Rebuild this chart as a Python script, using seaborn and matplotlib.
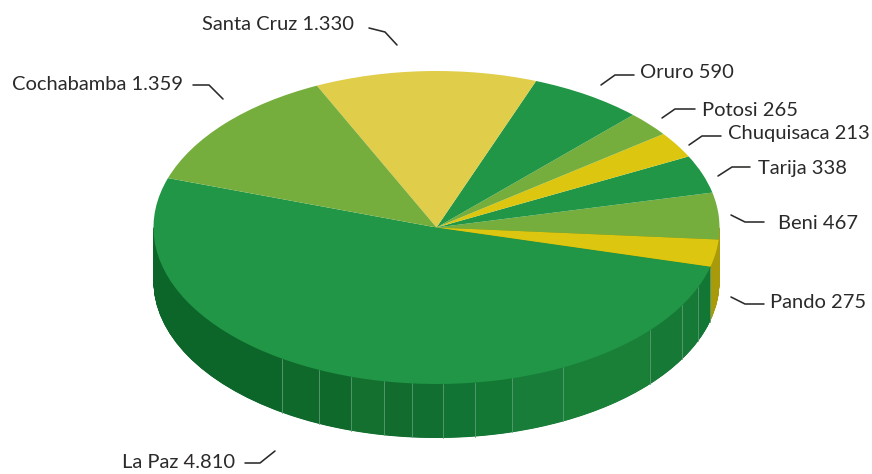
import numpy as np
import matplotlib
matplotlib.use("Agg")
import matplotlib.pyplot as plt
import seaborn as sns

# ---- data ----
regions = ["La Paz", "Pando", "Beni", "Tarija", "Chuquisaca", "Potosi", "Oruro", "Santa Cruz", "Cochabamba"]
# figures printed on the chart
value_labels = ["4.810", "275", "467", "338", "213", "265", "590", "1.330", "1.359"]
drawn_degrees = [183.9, 10.1, 17.3, 14.1, 9.7, 9.3, 23.4, 45.6, 46.6]
top_colors = ["#209646", "#dcc60f", "#75ae3c", "#209646", "#dcc60f", "#75ae3c", "#209646", "#e0cd4a", "#75ae3c"]

# rim facets of the extruded side: x pixel of each seam, left to right, and shade between seams
seam_px = [282, 319, 351, 384, 412, 443, 475, 512, 563, 650, 682, 698, 710]
facet_colors = ["#0d6629", "#0f692b", "#0f692b", "#14702f", "#116c2e", "#116f31", "#127434", "#147835",
                "#187d38", "#1a8038", "#167a36", "#167a36", "#127634", "#127634"]
pando_wall = "#a89a08"

# ---- layout (pixels) ----
W, H = 872, 474
CX, CY, RX, RY, DEPTH = 436.5, 227.5, 283.0, 156.5, 54.0
START = 161.6
label_pos = {"La Paz": (122, 462), "Pando": (770, 302), "Beni": (778, 224),
             "Tarija": (758, 169), "Chuquisaca": (728, 133), "Potosi": (702, 110),
             "Oruro": (640, 72), "Santa Cruz": (202, 25), "Cochabamba": (12, 84)}
leaders = {"La Paz": [(245, 463), (260, 463), (275, 451)], "Pando": [(731, 297), (745, 304), (764, 304)],
           "Beni": [(731, 215), (745, 222), (764, 222)], "Tarija": [(718, 176), (732, 167), (750, 167)],
           "Chuquisaca": [(689, 145), (702, 136), (721, 136)], "Potosi": [(662, 118), (675, 109), (695, 109)],
           "Oruro": [(601, 85), (615, 75), (634, 75)], "Santa Cruz": [(369, 28), (385, 32), (397, 45)],
           "Cochabamba": [(193, 85), (209, 85), (223, 99)]}

sns.set_theme(style="white")
plt.rcParams["font.family"] = ["Lato", "DejaVu Sans"]

fig = plt.figure(figsize=(W / 100, H / 100), dpi=100, facecolor="white")
ax = fig.add_axes([0, 0, 1, 1])


def px(x, y):
    return (x - CX) / RX, (CY - y) / RY


# side wall: stacked pies, bottom layer first
seam_deg = 360 - np.degrees(np.arccos((np.array(seam_px) - CX) / RX))
pando_deg = START + drawn_degrees[0]
keep = seam_deg < pando_deg
wall_edges = np.concatenate([[180], seam_deg[keep], [pando_deg, 360]])
wall_shares = list(np.diff(wall_edges)) + [180]
n_facets = len(wall_edges) - 2
wall_colors = facet_colors[:n_facets] + [pando_wall, "#ffffff"]
for d in np.linspace(DEPTH / RY, 0, 160):
    wedges, _ = ax.pie(wall_shares, colors=wall_colors, startangle=180, counterclock=True,
                       center=(0, -d), radius=1, wedgeprops={"linewidth": 0})
    wedges[-1].set_visible(False)

# seams on the wall
for a in seam_deg[keep]:
    x0, y0 = np.cos(np.radians(a)), np.sin(np.radians(a))
    ax.plot([x0, x0], [y0, y0 - DEPTH / RY], color="#5c9c72", lw=0.6, zorder=5)

# top face
ax.pie(drawn_degrees, colors=top_colors, startangle=START, counterclock=True, radius=1,
       wedgeprops={"linewidth": 0, "zorder": 6})

# labels and leaders
for name, lab in zip(regions, value_labels):
    x, y = label_pos[name]
    tx, ty = px(x, y)
    ax.text(tx, ty, f"{name} {lab}", ha="left", va="center", fontsize=14.5, color="#2b2a29", zorder=8)
    pts = np.array([px(*p) for p in leaders[name]])
    ax.plot(pts[:, 0], pts[:, 1], color="#2b2a29", lw=1.15, zorder=8)

ax.set_aspect("auto")
ax.set_xlim(-CX / RX, (W - CX) / RX)
ax.set_ylim(-(H - CY) / RY, CY / RY)
ax.axis("off")
fig.savefig("out.png", dpi=100, facecolor="white")
